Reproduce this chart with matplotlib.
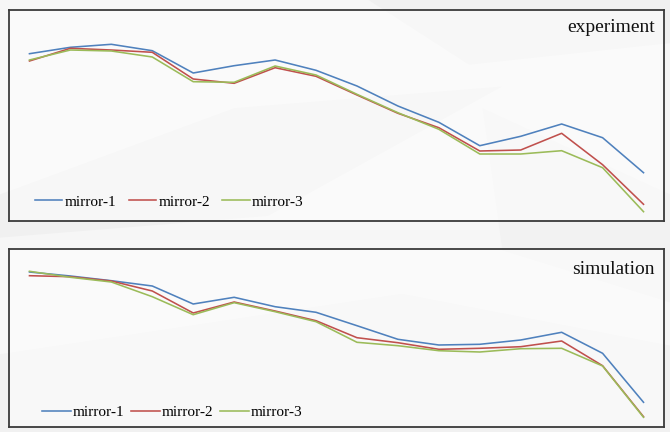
import matplotlib.pyplot as plt
from matplotlib.patches import Polygon
import numpy as np

plt.rcParams['font.family'] = ['Liberation Serif', 'DejaVu Serif']

# === data (arbitrary units) ===
points = list(range(16))
series_names = ['mirror-1', 'mirror-2', 'mirror-3']
colors = ['#4f81bd', '#c0504d', '#9bbb59']

exp_m1 = [167.3, 173.7, 176.7, 170.3, 148, 155.3, 161, 150.7, 135, 115, 98.7, 75.3, 84.7, 97, 83.3, 48.3]
exp_m2 = [160, 172.7, 171, 168.7, 142, 137.7, 153.3, 144.7, 126, 107.7, 93.3, 70, 71, 87.7, 56.3, 16.7]
exp_m3 = [161, 171, 170, 164, 139.3, 138.7, 155, 146, 126.7, 108.3, 91.7, 67, 67, 70.3, 53.3, 9.3]

sim_m1 = [155, 151, 146.3, 141, 123, 129.7, 120.3, 114.7, 101.3, 87.7, 82, 82.7, 87, 94.7, 73.7, 24.7]
sim_m2 = [151.3, 150.3, 146, 136, 114, 125, 116, 106.3, 89.3, 84.3, 77.7, 78.7, 80.3, 86, 61.3, 10.3]
sim_m3 = [155.7, 149.7, 145, 130.3, 112.3, 124.3, 115.3, 105.3, 84.7, 81.3, 76.3, 75, 78.3, 78.7, 61, 9.7]

fig = plt.figure(figsize=(6.7, 4.32), dpi=100, facecolor='#f6f6f6')

# faint polygon backdrop
bg = [
    ([(0, 0.55), (0.35, 0.75), (0.75, 0.8), (0.4, 0.5), (0, 0.45)], '#f0f0f0'),
    ([(0.0, 0.18), (0.6, 0.32), (1.0, 0.2), (1.0, 0.0), (0.0, 0.0)], '#f1f1f1'),
    ([(0.55, 1.0), (0.7, 0.85), (1.0, 0.9), (1.0, 1.0)], '#f0f0f0'),
    ([(0.72, 0.75), (1.0, 0.55), (1.0, 0.3), (0.75, 0.42)], '#f2f2f2'),
]
for pts, c in bg:
    fig.patches.append(Polygon(pts, closed=True, transform=fig.transFigure,
                               facecolor=c, edgecolor='none', zorder=-10))

W, H = 670, 432
# title, series, box (px), ylim top, title y, legend anchor, legend pad, col spacing
panels = [
    ('experiment', [exp_m1, exp_m2, exp_m3], (9, 10, 664, 221), 211, 0.955, 0.021, 0.4, 0.8, 1.8),
    ('simulation', [sim_m1, sim_m2, sim_m3], (9, 249, 664, 427), 178, 0.935, 0.038, 0.1, 0.4, 1.9),
]

for title, data, (x0, y0, x1, y1), top, ty, lx, lpad, cs, hl in panels:
    ax = fig.add_axes([x0 / W, 1 - y1 / H, (x1 - x0) / W, (y1 - y0) / H])
    ax.set_facecolor((1, 1, 1, 0.5))
    for vals, name, c in zip(data, series_names, colors):
        ax.plot(points, vals, color=c, lw=1.15, label=name)
    ax.set_xlim(-0.5, 15.5)
    ax.set_ylim(0, top)
    ax.set_xticks([])
    ax.set_yticks([])
    for s in ax.spines.values():
        s.set_color('#3a3a3a')
        s.set_linewidth(1.3)
    ax.text(0.986, ty, title, transform=ax.transAxes, ha='right', va='top',
            fontsize=14, color='#111111')
    ax.legend(loc='lower left', bbox_to_anchor=(lx, 0.0), ncol=3, frameon=False,
              fontsize=11, handlelength=hl, handletextpad=0.15, columnspacing=cs,
              borderaxespad=lpad)

fig.savefig('out.png', dpi=100, facecolor=fig.get_facecolor())
